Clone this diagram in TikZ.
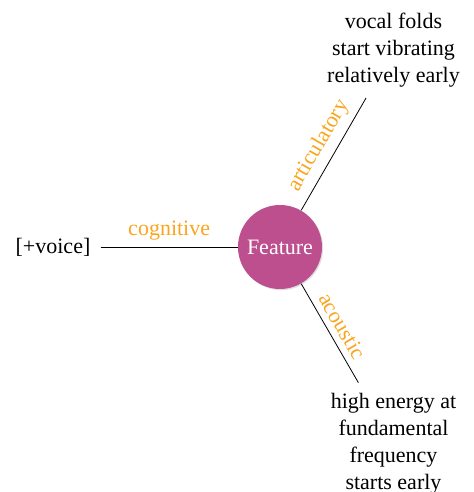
\documentclass[tikz,border=0pt]{standalone}
\usepackage{fontspec}
\setmainfont{Liberation Serif}
\usetikzlibrary{shadows}
\definecolor{featpink}{RGB}{189,79,143}
\definecolor{dimorange}{RGB}{250,165,30}
\tikzset{
  feature/.style={circle,fill=featpink,text=white,minimum size=42pt,inner sep=0pt,
    drop shadow={opacity=0.25,shadow xshift=0.6pt,shadow yshift=-0.6pt}},
  cue/.style={align=center,inner sep=5pt},
  dim/.style={text=dimorange,midway,sloped,above}
}
\begin{document}
\begin{tikzpicture}[font=\fontsize{11}{13.5}\selectfont]
  \useasboundingbox (-140pt,-122.5pt) rectangle (96.5pt,123.5pt);
  \node[feature] (feat) {Feature};
  \node[cue] (cog) at (180:113.5pt) {[+voice]};
  \node[cue] (art) at (60:113.5pt) {vocal folds\\start vibrating\\relatively early};
  \node[cue] (aco) at (-60:113.5pt) {high energy at\\fundamental\\frequency\\starts early};
  \draw (cog) -- node[dim] {cognitive} (feat);
  \draw (feat) -- node[dim] {articulatory} (art);
  \draw (feat) -- node[dim] {acoustic} (aco);
\end{tikzpicture}
\end{document}
